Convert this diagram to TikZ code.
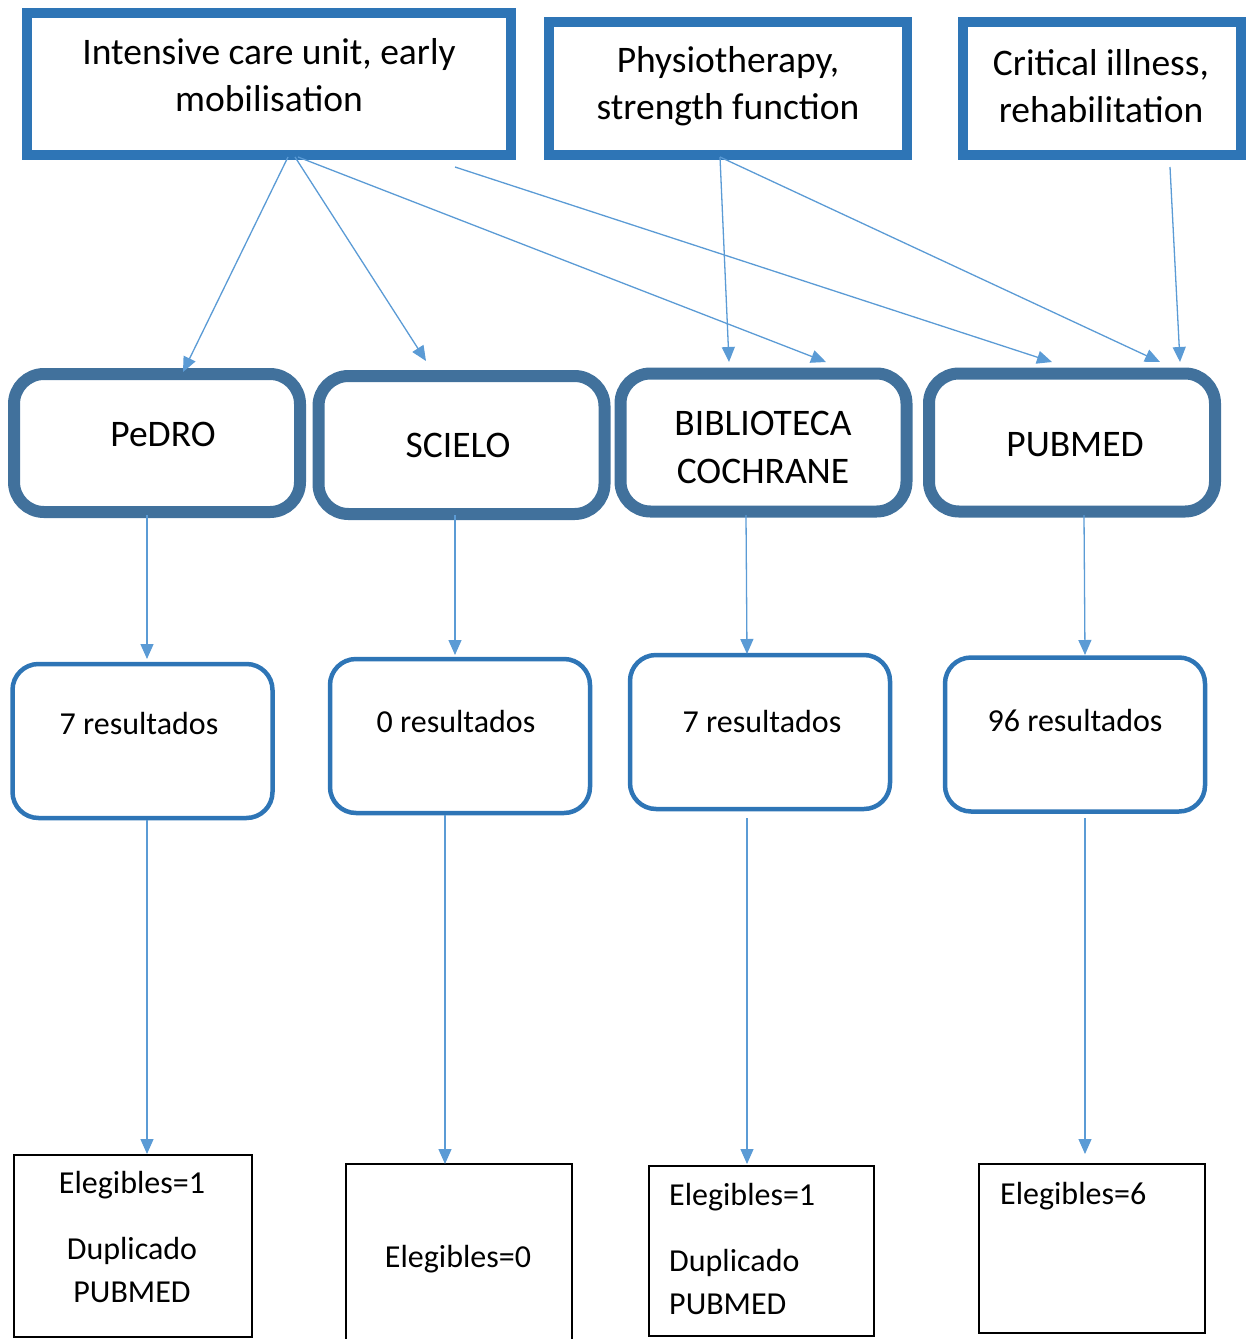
\documentclass[tikz,border=0pt]{standalone}
\usepackage{fontspec}
\setmainfont{Carlito}
\usetikzlibrary{arrows.meta}
\definecolor{topblue}{HTML}{2E75B6}
\definecolor{dbblue}{HTML}{41719C}
\definecolor{arrblue}{HTML}{5B9BD5}
\tikzset{
  topbox/.style={draw=topblue, line width=10pt, inner sep=0pt},
  dbbox/.style={draw=dbblue, line width=12pt, rounded corners=30pt, inner sep=0pt, minimum width=286pt, minimum height=138pt},
  resbox/.style={draw=topblue, line width=4.5pt, rounded corners=26pt, inner sep=0pt, minimum width=260pt, minimum height=154pt},
  elbox/.style={draw=black, line width=2pt, inner sep=0pt},
  toptext/.style={font=\fontsize{37.5}{47.5}\selectfont, align=center, inner sep=0pt},
  dbtext/.style={font=\fontsize{37.5}{48}\selectfont, align=center, inner sep=0pt},
  restext/.style={font=\fontsize{32}{36}\selectfont, inner sep=0pt},
  eltext/.style={font=\fontsize{32}{42.5}\selectfont, inner sep=0pt, align=center},
  conn/.style={draw=arrblue, line width=1.3pt, -{Triangle[length=15pt,width=13pt]}}
}
\begin{document}
\begin{tikzpicture}[x=1pt,y=-1pt]
\useasboundingbox (0,0) rectangle (1249,1339);
% top boxes
\node[topbox, minimum width=484pt, minimum height=142pt] (t1) at (269,84) {};
\node[topbox, minimum width=358pt, minimum height=133pt] (t2) at (728,88.5) {};
\node[topbox, minimum width=278pt, minimum height=133pt] (t3) at (1102,88.5) {};
\node[toptext] (t1txt) at (269,75) {Intensive care unit, early\\mobilisation};
\node[toptext] (t2txt) at (728,86) {Physiotherapy,\\strength function};
\node[toptext] (t3txt) at (1101,86) {Critical illness,\\rehabilitation};
% database boxes
\node[dbbox] (d1) at (157,443) {};
\node[dbbox] (d2) at (461.5,445) {};
\node[dbbox] (d3) at (763.5,442.5) {};
\node[dbbox] (d4) at (1072,442.5) {};
\node[dbtext] (d1txt) at (163,434) {PeDRO};
\node[dbtext] (d2txt) at (458,445) {SCIELO};
\node[dbtext] (d3txt) at (763,447) {BIBLIOTECA\\COCHRANE};
\node[dbtext] (d4txt) at (1075,445) {PUBMED};
% result boxes
\node[resbox] (r1) at (142.5,741) {};
\node[resbox] (r2) at (460,736) {};
\node[resbox] (r3) at (760,732) {};
\node[resbox] (r4) at (1075,734.5) {};
\node[restext] (r1txt) at (139,723) {7 resultados};
\node[restext] (r2txt) at (456,721) {0 resultados};
\node[restext] (r3txt) at (762,721) {7 resultados};
\node[restext] (r4txt) at (1075,720) {96 resultados};
% eligible boxes
\node[elbox, minimum width=238pt, minimum height=182pt] (e1) at (132.5,1245.5) {};
\node[elbox, minimum width=226pt, minimum height=190pt] (e2) at (458.5,1259) {};
\node[elbox, minimum width=225pt, minimum height=170pt] (e3) at (761,1250.5) {};
\node[elbox, minimum width=226pt, minimum height=169pt] (e4) at (1091.5,1248.5) {};
\node[eltext] (e1a) at (132,1185) {Elegibles=1};
\node[eltext] (e1b) at (132,1270) {Duplicado\\PUBMED};
\node[eltext] (e2a) at (458,1259) {Elegibles=0};
\node[eltext, anchor=west] (e3a) at (669,1197) {Elegibles=1};
\node[eltext, anchor=west, align=left] (e3b) at (669,1282) {Duplicado\\PUBMED};
\node[eltext, anchor=west] (e4a) at (1000,1196) {Elegibles=6};
% connector coordinates
\coordinate (s1a) at (288,157);
\coordinate (s1b) at (295,157);
\coordinate (s1c) at (298,157);
\coordinate (s1d) at (455,167);
\coordinate (s2a) at (720,157);
\coordinate (s3a) at (1170,167);
\coordinate (p1) at (183,372);
\coordinate (p2) at (426,361);
\coordinate (p3) at (826,362);
\coordinate (p4) at (1052,362);
\coordinate (p5) at (729,362);
\coordinate (p6) at (1160,362);
\coordinate (p7) at (1180,362);
\draw[conn] (s1a) -- (p1);
\draw[conn] (s1b) -- (p2);
\draw[conn] (s1c) -- (p3);
\draw[conn] (s1d) -- (p4);
\draw[conn] (s2a) -- (p5);
\draw[conn] (s2a) -- (p6);
\draw[conn] (s3a) -- (p7);
% vertical connectors
\coordinate (q1) at (147,515); \coordinate (q1e) at (147,659);
\coordinate (q2) at (455,515); \coordinate (q2e) at (455,655);
\coordinate (q3) at (746,515); \coordinate (q3e) at (747,654);
\coordinate (q4) at (1084,515); \coordinate (q4e) at (1085,655);
\draw[conn] (q1) -- (q1e);
\draw[conn] (q2) -- (q2e);
\draw[conn] (q3) -- (q3e);
\draw[conn] (q4) -- (q4e);
\coordinate (u1) at (147,820); \coordinate (u1e) at (147,1154);
\coordinate (u2) at (445,815); \coordinate (u2e) at (445,1164);
\coordinate (u3) at (747,818); \coordinate (u3e) at (747,1164);
\coordinate (u4) at (1085,818); \coordinate (u4e) at (1085,1154);
\draw[conn] (u1) -- (u1e);
\draw[conn] (u2) -- (u2e);
\draw[conn] (u3) -- (u3e);
\draw[conn] (u4) -- (u4e);
\end{tikzpicture}
\end{document}
